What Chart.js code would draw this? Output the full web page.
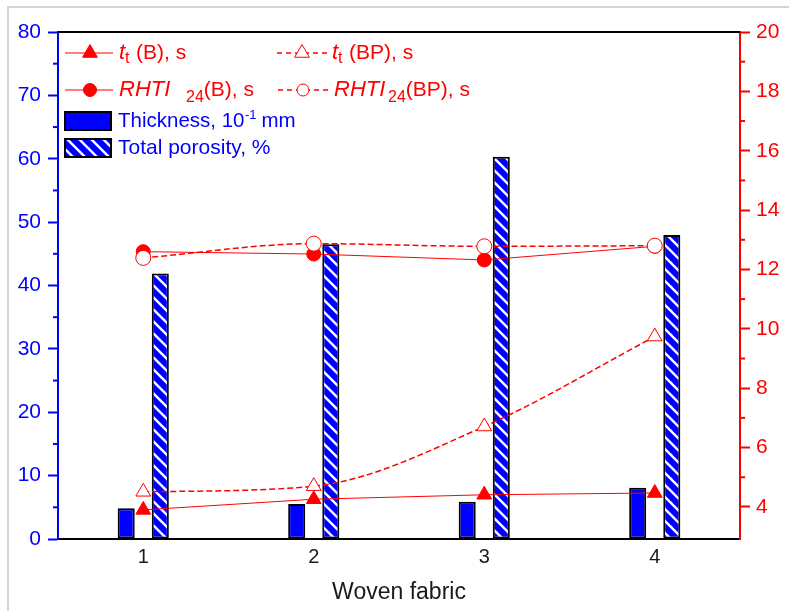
<!DOCTYPE html>
<html>
<head>
<meta charset="utf-8">
<title>Woven fabric</title>
<script src="https://cdn.jsdelivr.net/npm/chart.js@4/dist/chart.umd.min.js"></script>
<style>
    html, body { margin:0; padding:0; background:#ffffff; }
    #chartFabric { display:block; }
</style>
</head>
<body>
<canvas id="chartFabric" width="789" height="611"></canvas>
<script>
/*
==========================================
DATOS
==========================================
*/

const categories = ["1", "2", "3", "4"];

// barras (eje izquierdo)
const thickness = [4.84, 5.52, 5.88, 8.09];
const porosity = [41.9, 46.5, 60.3, 47.95];

// lineas (eje derecho)
const ttB = [3.90, 4.26, 4.41, 4.47];
const ttBP = [4.51, 4.70, 6.71, 9.74];
const rhtiB = [12.60, 12.52, 12.32, 12.78];
const rhtiBP = [12.39, 12.87, 12.78, 12.80];

// ticks menores
const leftMinor = [5, 15, 25, 35, 45, 55, 65, 75];
const rightMinor = [5, 7, 9, 11, 13, 15, 17, 19];

const FONT = "'Liberation Sans', Arial, sans-serif";
const RED = "#ff0000";
const BLUE = "#0000ff";

/*
==========================================
RAYADO
==========================================
*/

function makeHatch(){

    const c = document.createElement("canvas");
    c.width = 12;
    c.height = 12;

    const g = c.getContext("2d");
    g.fillStyle = BLUE;
    g.fillRect(0, 0, 12, 12);

    g.strokeStyle = "#ffffff";
    g.lineWidth = 2.4;
    g.beginPath();
    g.moveTo(-3, -3); g.lineTo(15, 15);
    g.moveTo(-3, 9); g.lineTo(3, 15);
    g.moveTo(9, -3); g.lineTo(15, 3);
    g.stroke();

    return g.createPattern(c, "repeat");
}

const canvas = document.getElementById("chartFabric");
const hatch = makeHatch();

/*
==========================================
LEYENDA Y MARCO
==========================================
*/

function drawMarker(ctx, style, x, y, filled){

    ctx.save();
    ctx.strokeStyle = RED;
    ctx.fillStyle = filled ? RED : "#ffffff";
    ctx.lineWidth = 1;
    ctx.setLineDash([]);
    ctx.beginPath();

    if(style === "triangle"){
        const r = 8.5;
        ctx.moveTo(x, y - r);
        ctx.lineTo(x + r * 0.866, y + r * 0.5);
        ctx.lineTo(x - r * 0.866, y + r * 0.5);
        ctx.closePath();
    }else{
        ctx.arc(x, y, filled ? 6.5 : 6, 0, Math.PI * 2);
    }

    ctx.fill();
    ctx.stroke();
    ctx.restore();
}

// cada parte: x fijo, o a continuacion de la anterior (+gap)
function drawText(ctx, parts, y, color){

    ctx.save();
    ctx.fillStyle = color;
    ctx.textBaseline = "middle";
    ctx.textAlign = "left";

    let cursor = 0;

    parts.forEach(p => {
        ctx.font = (p.italic ? "italic " : "") + p.size + "px " + FONT;
        const x = p.x !== undefined ? p.x : cursor + (p.gap || 0);
        ctx.fillText(p.text, x, y + (p.dy || 0));
        cursor = x + ctx.measureText(p.text).width;
    });

    ctx.restore();
}

function legendLine(ctx, x1, x2, y, dashed){

    ctx.save();
    ctx.strokeStyle = RED;
    ctx.lineWidth = dashed ? 1.5 : 1;
    ctx.setLineDash(dashed ? [5, 4] : []);
    ctx.beginPath();
    ctx.moveTo(x1, y);
    ctx.lineTo(x2, y);
    ctx.stroke();
    ctx.restore();
}

const customLayer = {

    id:"customLayer",

    beforeDraw(chart){

        const ctx = chart.ctx;
        ctx.save();
        ctx.fillStyle = "#d4d4d4";
        ctx.fillRect(7, 6, 789, 2);
        ctx.fillRect(7, 6, 2, 611);
        ctx.restore();

    },

    afterDraw(chart){

        const ctx = chart.ctx;
        const a = chart.chartArea;
        const yl = chart.scales.y;
        const yr = chart.scales.y1;

        // borde superior
        ctx.save();
        ctx.strokeStyle = "#000000";
        ctx.lineWidth = 2;
        ctx.beginPath();
        ctx.moveTo(a.left, a.top);
        ctx.lineTo(a.right, a.top);
        ctx.stroke();

        // ticks menores
        ctx.strokeStyle = BLUE;
        leftMinor.forEach(v => {
            const p = yl.getPixelForValue(v);
            ctx.beginPath();
            ctx.moveTo(a.left - 5, p);
            ctx.lineTo(a.left, p);
            ctx.stroke();
        });

        ctx.strokeStyle = RED;
        rightMinor.forEach(v => {
            const p = yr.getPixelForValue(v);
            ctx.beginPath();
            ctx.moveTo(a.right, p);
            ctx.lineTo(a.right + 5, p);
            ctx.stroke();
        });
        ctx.restore();

        // leyenda - lineas
        legendLine(ctx, 65, 113, 53, false);
        drawMarker(ctx, "triangle", 90, 53, true);
        drawText(ctx, [
            {text:"t", x:119, size:22, italic:true},
            {text:"t", gap:0, size:16, dy:6},
            {text:"(B), s", x:136, size:21}
        ], 53, RED);

        legendLine(ctx, 277, 330, 53, true);
        drawMarker(ctx, "triangle", 302, 53, false);
        drawText(ctx, [
            {text:"t", x:332, size:22, italic:true},
            {text:"t", gap:0, size:16, dy:6},
            {text:"(BP), s", x:349, size:21}
        ], 53, RED);

        legendLine(ctx, 65, 113, 90, false);
        drawMarker(ctx, "circle", 90, 90, true);
        drawText(ctx, [
            {text:"RHTI", x:119, size:22, italic:true},
            {text:"24", x:186, size:16, dy:8},
            {text:"(B), s", gap:0, size:21}
        ], 90, RED);

        legendLine(ctx, 278, 330, 90, true);
        drawMarker(ctx, "circle", 303, 90, false);
        drawText(ctx, [
            {text:"RHTI", x:334, size:22, italic:true},
            {text:"24", x:388, size:16, dy:8},
            {text:"(BP), s", gap:0, size:21}
        ], 90, RED);

        // leyenda - barras
        ctx.save();
        ctx.lineWidth = 2;
        ctx.strokeStyle = "#000000";
        ctx.fillStyle = BLUE;
        ctx.fillRect(65, 112, 46, 18);
        ctx.strokeRect(65, 112, 46, 18);
        ctx.fillStyle = hatch;
        ctx.fillRect(65, 139, 46, 18);
        ctx.strokeRect(65, 139, 46, 18);
        ctx.restore();

        drawText(ctx, [
            {text:"Thickness, 10", x:118, size:20.5},
            {text:"-1", gap:0.5, size:13, dy:-6},
            {text:"mm", gap:5, size:20.5}
        ], 121, BLUE);

        drawText(ctx, [
            {text:"Total porosity, %", x:118, size:21}
        ], 148, BLUE);

    }

};

/*
==========================================
GRAFICA
==========================================
*/

function lineSet(values, dashed, style, filled, order){

    return {
        type:"line",
        yAxisID:"y1",
        data:values,
        order:order,
        borderColor:RED,
        borderWidth:dashed ? 1.5 : 1,
        borderDash:dashed ? [6, 3] : [],
        cubicInterpolationMode:dashed ? "monotone" : "default",
        tension:0,
        pointStyle:style,
        pointRadius:style === "triangle" ? 8.5 : (filled ? 7 : 7.5),
        pointBorderWidth:1,
        pointBorderColor:RED,
        pointBackgroundColor:filled ? RED : "#ffffff",
        fill:false
    };
}

const chartFabric = new Chart(canvas, {

    type:"bar",

    data:{

        labels:categories,

        datasets:[
            lineSet(rhtiBP, true, "circle", false, 0),
            lineSet(ttBP, true, "triangle", false, 0),
            lineSet(rhtiB, false, "circle", true, 1),
            lineSet(ttB, false, "triangle", true, 1),
            {
                label:"Thickness",
                yAxisID:"y",
                data:thickness,
                order:2,
                backgroundColor:BLUE,
                borderColor:"#000000",
                borderWidth:2,
                borderSkipped:false,
                categoryPercentage:0.4,
                barPercentage:0.5
            },
            {
                label:"Total porosity",
                yAxisID:"y",
                data:porosity,
                order:2,
                backgroundColor:hatch,
                borderColor:"#000000",
                borderWidth:2,
                borderSkipped:false,
                categoryPercentage:0.4,
                barPercentage:0.5
            }
        ]

    },

    options:{

        responsive:false,
        animation:false,

        layout:{
            padding:{ top:32, left:0, right:0, bottom:0 }
        },

        plugins:{
            legend:{ display:false },
            tooltip:{ enabled:false }
        },

        scales:{

            x:{
                offset:true,
                grid:{ display:false, drawTicks:false },
                border:{ color:"#000000", width:2 },
                ticks:{
                    color:"#1a1a1a",
                    padding:6,
                    font:{ family:FONT, size:20 }
                },
                title:{
                    display:true,
                    text:"Woven fabric",
                    color:"#1a1a1a",
                    padding:{ top:0, bottom:5 },
                    font:{ family:FONT, size:23 }
                },
                afterFit(scale){ scale.height = 72; }
            },

            y:{
                position:"left",
                min:0,
                max:80,
                ticks:{
                    stepSize:10,
                    color:BLUE,
                    padding:7,
                    font:{ family:FONT, size:21 }
                },
                grid:{
                    drawOnChartArea:false,
                    drawTicks:true,
                    tickLength:10,
                    tickWidth:2,
                    color:BLUE
                },
                border:{ color:BLUE, width:2 },
                afterFit(scale){ scale.width = 58; }
            },

            y1:{
                position:"right",
                min:2.92,
                max:20,
                afterBuildTicks(scale){
                    scale.ticks = scale.ticks.filter(t => Math.abs(t.value % 2) < 1e-6);
                },
                ticks:{
                    stepSize:2,
                    color:RED,
                    padding:6,
                    font:{ family:FONT, size:21 }
                },
                grid:{
                    drawOnChartArea:false,
                    drawTicks:true,
                    tickLength:10,
                    tickWidth:2,
                    color:RED
                },
                border:{ color:RED, width:2 },
                afterFit(scale){ scale.width = 49; }
            }

        }

    },

    plugins:[customLayer]

});
</script>
</body>
</html>
